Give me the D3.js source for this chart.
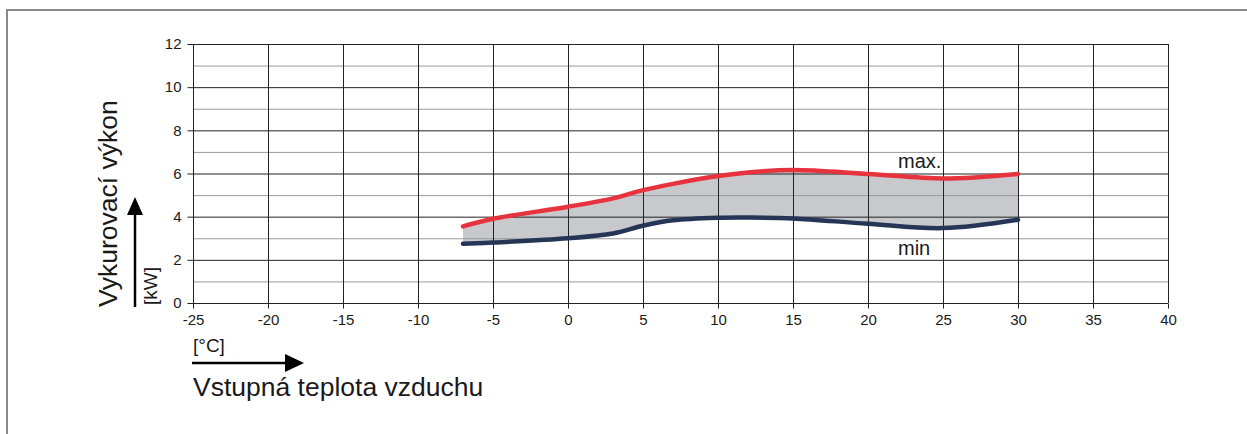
<!DOCTYPE html>
<html>
  <head>
    <script src="https://cdn.jsdelivr.net/npm/d3@7"></script>
    <style>
      body { margin: 0; background: #fff; }
      text { font-family: "Liberation Sans", Arial, sans-serif; fill: #1a1a1a; }
    </style>
  </head>
  <body>
    <svg id="chart" width="1247" height="434"></svg>
    <script>
    // air inlet temperature [°C]
    var temps = [-7, -5, 0, 3, 5, 7, 10, 12, 15, 20, 25, 30];
    // heating output [kW]
    var maxKw = [3.55, 3.9, 4.46, 4.85, 5.23, 5.52, 5.88, 6.05, 6.16, 5.98, 5.77, 5.98];
    var minKw = [2.74, 2.8, 3.0, 3.22, 3.58, 3.83, 3.95, 3.96, 3.92, 3.67, 3.47, 3.86];
    var xTicks = [-25, -20, -15, -10, -5, 0, 5, 10, 15, 20, 25, 30, 35, 40];
    var yTicks = [0, 2, 4, 6, 8, 10, 12];
    var yMinor = [1, 3, 5, 7, 9, 11];

    var svg = d3.select("#chart");

    // outer frame
    svg.append("rect")
      .attr("x", 7).attr("y", 10)
      .attr("width", 1260).attr("height", 440)
      .attr("fill", "none").attr("stroke", "#8a8a8a").attr("stroke-width", 2);

    var x = d3.scaleLinear().domain([-25, 40]).range([193, 1168]);
    var y = d3.scaleLinear().domain([0, 12]).range([303, 44]);

    var rows = temps.map(function(t, i){ return {t: t, hi: maxKw[i], lo: minKw[i]}; });
    var curve = d3.curveCatmullRom.alpha(0.5);

    // band between min and max
    svg.append("path")
      .datum(rows)
      .attr("fill", "#c7c9cc")
      .attr("d", d3.area().curve(curve)
        .x(function(d){ return x(d.t); })
        .y0(function(d){ return y(d.lo); })
        .y1(function(d){ return y(d.hi); }));

    // grid
    var grid = svg.append("g");
    grid.selectAll(".minor").data(yMinor).enter().append("line")
      .attr("x1", x(-25)).attr("x2", x(40))
      .attr("y1", function(d){ return y(d) + 0.5; }).attr("y2", function(d){ return y(d) + 0.5; })
      .attr("stroke", "#9a9a9a").attr("stroke-width", 1);
    grid.selectAll(".major").data(yTicks).enter().append("line")
      .attr("x1", x(-25)).attr("x2", x(40))
      .attr("y1", function(d){ return y(d) + 0.5; }).attr("y2", function(d){ return y(d) + 0.5; })
      .attr("stroke", "#222").attr("stroke-width", 1);
    grid.selectAll(".vert").data(xTicks).enter().append("line")
      .attr("x1", function(d){ return x(d) + 0.5; }).attr("x2", function(d){ return x(d) + 0.5; })
      .attr("y1", y(12)).attr("y2", y(0))
      .attr("stroke", "#222").attr("stroke-width", 1);

    // curves
    var line = function(key){
      return d3.line().curve(curve)
        .x(function(d){ return x(d.t); })
        .y(function(d){ return y(d[key]); });
    };
    svg.append("path").datum(rows)
      .attr("fill", "none").attr("stroke", "#253555").attr("stroke-width", 4.5)
      .attr("stroke-linecap", "round").attr("d", line("lo"));
    svg.append("path").datum(rows)
      .attr("fill", "none").attr("stroke", "#e7333e").attr("stroke-width", 4.5)
      .attr("stroke-linecap", "round").attr("d", line("hi"));

    // axes (plain hyphen for negatives, as in the original)
    var fmt = function(d){ return String(d); };
    var xAxis = svg.append("g")
      .attr("transform", "translate(0," + (y(0) + 0.5) + ")")
      .call(d3.axisBottom(x).tickValues(xTicks).tickFormat(fmt).tickSize(5).tickPadding(6));
    var yAxis = svg.append("g")
      .attr("transform", "translate(" + (x(-25) + 0.5) + ",0)")
      .call(d3.axisLeft(y).tickValues(yTicks).tickFormat(fmt).tickSize(6).tickPadding(6));
    [xAxis, yAxis].forEach(function(g){
      g.select(".domain").remove();
      g.selectAll(".tick line").attr("stroke", "#222");
      g.selectAll("text").attr("font-size", 15).attr("fill", "#1a1a1a")
        .style("font-family", "'Liberation Sans', Arial, sans-serif");
    });

    // series labels
    svg.append("text").attr("x", x(22)).attr("y", 168)
      .attr("font-size", 20).text("max.");
    svg.append("text").attr("x", x(22)).attr("y", 255)
      .attr("font-size", 20).text("min");

    // y title with arrow
    svg.append("text")
      .attr("transform", "translate(117,307) rotate(-90)")
      .attr("font-size", 26.5).text("Vykurovací výkon");
    svg.append("text")
      .attr("transform", "translate(157,305) rotate(-90)")
      .attr("font-size", 19).text("[kW]");
    svg.append("line")
      .attr("x1", 135).attr("x2", 135).attr("y1", 307).attr("y2", 212)
      .attr("stroke", "#000").attr("stroke-width", 2.5);
    svg.append("path")
      .attr("d", "M127,215L143,215L135,197Z").attr("fill", "#000");

    // x title with arrow
    svg.append("text").attr("x", 193).attr("y", 352)
      .attr("font-size", 19).text("[°C]");
    svg.append("line")
      .attr("x1", 192).attr("x2", 287).attr("y1", 363).attr("y2", 363)
      .attr("stroke", "#000").attr("stroke-width", 2.5);
    svg.append("path")
      .attr("d", "M285,354L285,372L304,363Z").attr("fill", "#000");
    svg.append("text").attr("x", 193).attr("y", 396)
      .attr("font-size", 26.5).text("Vstupná teplota vzduchu");
    </script>
  </body>
</html>
